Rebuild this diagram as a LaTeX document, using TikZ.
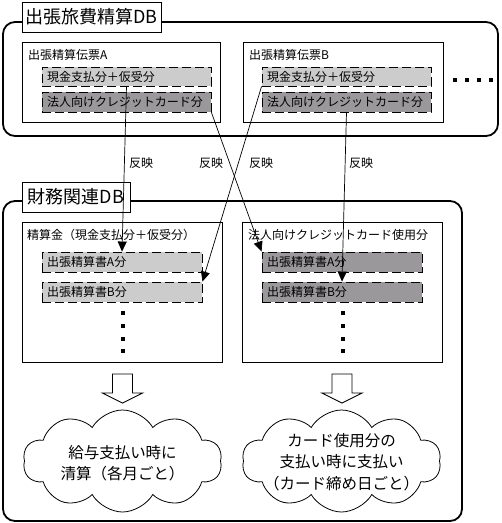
\documentclass[tikz,border=0pt]{standalone}
\usepackage{fontspec}
\setmainfont{Noto Sans CJK JP}
\usetikzlibrary{arrows.meta,shapes.symbols}
\definecolor{lightg}{RGB}{204,204,204}
\definecolor{darkg}{RGB}{154,152,154}
\tikzset{
 outerbox/.style={draw, line width=1.8pt, rounded corners=12pt, fill=white, inner sep=0},
 titlebox/.style={draw, fill=white, line width=0.9pt, inner sep=0, font=\fontsize{18}{20}\selectfont},
 slip/.style={draw, fill=white, line width=0.9pt, inner sep=0},
 item/.style={draw, dash pattern=on 9pt off 4pt, line width=0.9pt, inner xsep=5pt, inner ysep=0, align=left, font=\fontsize{12}{14}\selectfont},
 cash/.style={item, fill=lightg},
 card/.style={item, fill=darkg},
 caption/.style={anchor=west, inner sep=0, font=\fontsize{12}{14}\selectfont},
 dotmark/.style={fill=black, minimum size=3.2pt, inner sep=0},
 link/.style={-{Triangle[length=10pt,width=9pt]}, line width=0.7pt},
 lbl/.style={font=\fontsize{12}{14}\selectfont, inner sep=0},
 blockarrow/.style={draw, fill=white, line width=0.9pt},
 puff/.style={draw, fill=white, line width=0.8pt, cloud, cloud puffs=10, cloud puff arc=120, aspect=2, inner sep=0, minimum width=199pt, minimum height=102pt},
 cloudtext/.style={align=center, inner sep=0, font=\fontsize{15.5}{21.5}\selectfont},
}
\begin{document}
\begin{tikzpicture}[x=1pt,y=-1pt]
\useasboundingbox[fill=white] (0,0) rectangle (502,523);

% ---- top database ----
\node[outerbox, minimum width=495pt, minimum height=114pt] (topdb) at (250.5,79) {};
\node[titlebox, minimum width=139pt, minimum height=30pt] (toptitle) at (91.5,17) {出張旅費精算DB};

\node[slip, minimum width=198pt, minimum height=80pt] (slipA) at (121,82) {};
\node[caption] (capA) at (28,55) {出張精算伝票A};
\node[cash, minimum width=169pt, minimum height=19pt, text width=159pt] (acash) at (126.5,76.5) {現金支払分＋仮受分};
\node[card, minimum width=169pt, minimum height=20pt, text width=159pt] (acard) at (126.5,102) {法人向けクレジットカード分};

\node[slip, minimum width=200pt, minimum height=80pt] (slipB) at (343,82) {};
\node[caption] (capB) at (249,55) {出張精算伝票B};
\node[cash, minimum width=169pt, minimum height=19pt, text width=159pt] (bcash) at (346.5,76.5) {現金支払分＋仮受分};
\node[card, minimum width=169pt, minimum height=20pt, text width=159pt] (bcard) at (346.5,102) {法人向けクレジットカード分};

\node[dotmark] (h1) at (455,80) {};
\node[dotmark] (h2) at (467,80) {};
\node[dotmark] (h3) at (479,80) {};
\node[dotmark] (h4) at (491,80) {};

% ---- finance database ----
\node[outerbox, minimum width=459pt, minimum height=320pt] (findb) at (232.5,361) {};
\node[titlebox, minimum width=108pt, minimum height=30pt] (fintitle) at (76,197) {財務関連DB};

\node[slip, minimum width=200pt, minimum height=140pt] (lbox) at (122,292) {};
\node[caption] (capL) at (27,235) {精算金（現金支払分＋仮受分）};
\node[cash, minimum width=160pt, minimum height=20pt, text width=150pt] (la) at (122,262) {出張精算書A分};
\node[cash, minimum width=160pt, minimum height=20pt, text width=150pt] (lb) at (122,292) {出張精算書B分};
\node[dotmark] (lv1) at (123,313) {};
\node[dotmark] (lv2) at (123,326) {};
\node[dotmark] (lv3) at (123,339) {};
\node[dotmark] (lv4) at (123,351) {};

\node[slip, minimum width=200pt, minimum height=140pt] (rbox) at (342,292) {};
\node[caption] (capR) at (248,235) {法人向けクレジットカード使用分};
\node[card, minimum width=160pt, minimum height=20pt, text width=150pt] (ra) at (342,262) {出張精算書A分};
\node[card, minimum width=160pt, minimum height=20pt, text width=150pt] (rb) at (342,292) {出張精算書B分};
\node[dotmark] (rv1) at (343,313) {};
\node[dotmark] (rv2) at (343,326) {};
\node[dotmark] (rv3) at (343,339) {};
\node[dotmark] (rv4) at (343,351) {};

% ---- links ----
\draw[link] (acash.south) -- (la.north);
\draw[link] (acard.south east) -- (ra.north west);
\draw[link] (bcash.south west) -- (lb.north east);
\draw[link] (bcard.south) -- (rb.north);

\node[lbl] (r1) at (141,163) {反映};
\node[lbl] (r2) at (211,163) {反映};
\node[lbl] (r3) at (261,163) {反映};
\node[lbl] (r4) at (361,163) {反映};

% ---- block arrows ----
\coordinate (ba1) at (122.5,374);
\coordinate (ba2) at (342,374);
\draw[blockarrow] (ba1) ++(-10,0) -- ++(0,19) -- ++(-10,0) -- ++(20,10) -- ++(20,-10) -- ++(-10,0) -- ++(0,-19) -- cycle;
\draw[blockarrow] (ba2) ++(-10,0) -- ++(0,19) -- ++(-10,0) -- ++(20,10) -- ++(20,-10) -- ++(-10,0) -- ++(0,-19) -- cycle;

% ---- clouds ----
\node[puff] (lcloud) at (122.5,461) {};
\node[cloudtext] (ltext) at (122.5,463) {給与支払い時に\\清算（各月ごと）};
\node[puff] (rcloud) at (341.5,461) {};
\node[cloudtext] (rtext) at (341.5,462) {カード使用分の\\支払い時に支払い\\（カード締め日ごと）};
\end{tikzpicture}
\end{document}
